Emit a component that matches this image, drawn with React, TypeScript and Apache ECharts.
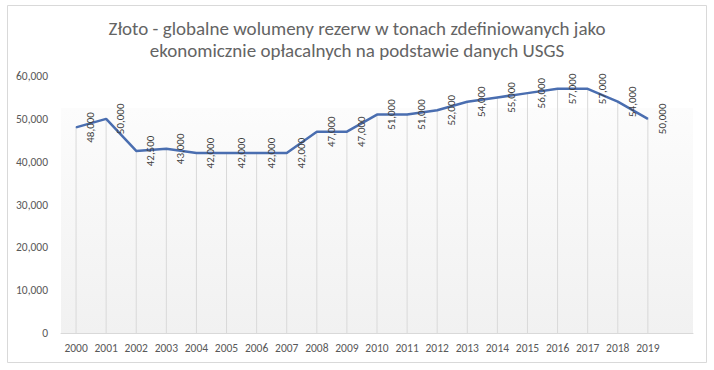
import React, { useEffect, useRef } from "react";
import * as echarts from "echarts";

const TITLE = "Złoto - globalne wolumeny rezerw w tonach zdefiniowanych jako\nekonomicznie opłacalnych na podstawie danych USGS";
const years = ["2000","2001","2002","2003","2004","2005","2006","2007","2008","2009","2010","2011","2012","2013","2014","2015","2016","2017","2018","2019"];
const reserves = [48000,50000,42500,43000,42000,42000,42000,42000,47000,47000,51000,51000,52000,54000,55000,56000,57000,57000,54000,50000];
const yTicks = { min: 0, max: 60000, interval: 10000 };

const FONT = "Carlito, Lato, 'Noto Sans', sans-serif";

export default function App() {
  const ref = useRef<HTMLDivElement>(null);
  useEffect(() => {
    if (!ref.current) return;
    const chart = echarts.init(ref.current, null, { renderer: "svg" });
    const fmt = (v: number) => v.toLocaleString("en-US");
    chart.setOption({
      animation: false,
      backgroundColor: "#ffffff",
      title: {
        text: TITLE,
        left: "center",
        top: 12,
        textStyle: { fontFamily: FONT, fontSize: 19, fontWeight: "normal", color: "#646464", lineHeight: 22 },
      },
      graphic: [
        {
          type: "rect",
          shape: { x: 7.5, y: 5.5, width: 699, height: 357 },
          style: { fill: "none", stroke: "#d9d9d9", lineWidth: 1 },
          silent: true,
          z: 100,
        },
      ],
      grid: {
        left: 61,
        right: 21,
        top: 76,
        bottom: 37,
        show: true,
        borderWidth: 0,
        backgroundColor: new echarts.graphic.LinearGradient(0, 0, 0, 1, [
          { offset: 0, color: "#ffffff" },
          { offset: 0.124, color: "#ffffff" },
          { offset: 0.125, color: "#fcfcfc" },
          { offset: 1, color: "#f1f1f1" },
        ]),
      },
      xAxis: {
        type: "category",
        data: [...years, ""],
        boundaryGap: true,
        axisLine: { show: true, lineStyle: { color: "#d9d9d9", width: 1 } },
        axisTick: { show: false },
        axisLabel: { fontFamily: FONT, fontSize: 11.5, color: "#595959", margin: 9, interval: 0 },
        splitLine: { show: false },
      },
      yAxis: {
        type: "value",
        min: yTicks.min,
        max: yTicks.max,
        interval: yTicks.interval,
        axisLine: { show: false },
        axisTick: { show: false },
        splitLine: { show: false },
        axisLabel: { fontFamily: FONT, fontSize: 11.5, color: "#595959", margin: 13, formatter: (v: number) => fmt(v) },
      },
      series: [
        {
          type: "bar",
          data: reserves,
          barWidth: 1,
          itemStyle: { color: "#d9d9d9" },
          silent: true,
          z: 1,
        },
        {
          type: "line",
          data: reserves,
          symbol: "circle",
          symbolSize: 1,
          itemStyle: { color: "#4a6eb0" },
          lineStyle: { color: "#4a6eb0", width: 2.5 },
          z: 3,
          label: {
            show: true,
            position: "right",
            distance: 14,
            rotate: 90,
            align: "center",
            verticalAlign: "middle",
            fontFamily: FONT,
            fontSize: 11,
            color: "#404040",
            formatter: (p: any) => fmt(p.value),
          },
        },
      ],
    });
    return () => chart.dispose();
  }, []);
  return (
    <div
      ref={ref}
      style={{ position: "fixed", left: 0, top: 0, width: 714, height: 370 }}
    />
  );
}
